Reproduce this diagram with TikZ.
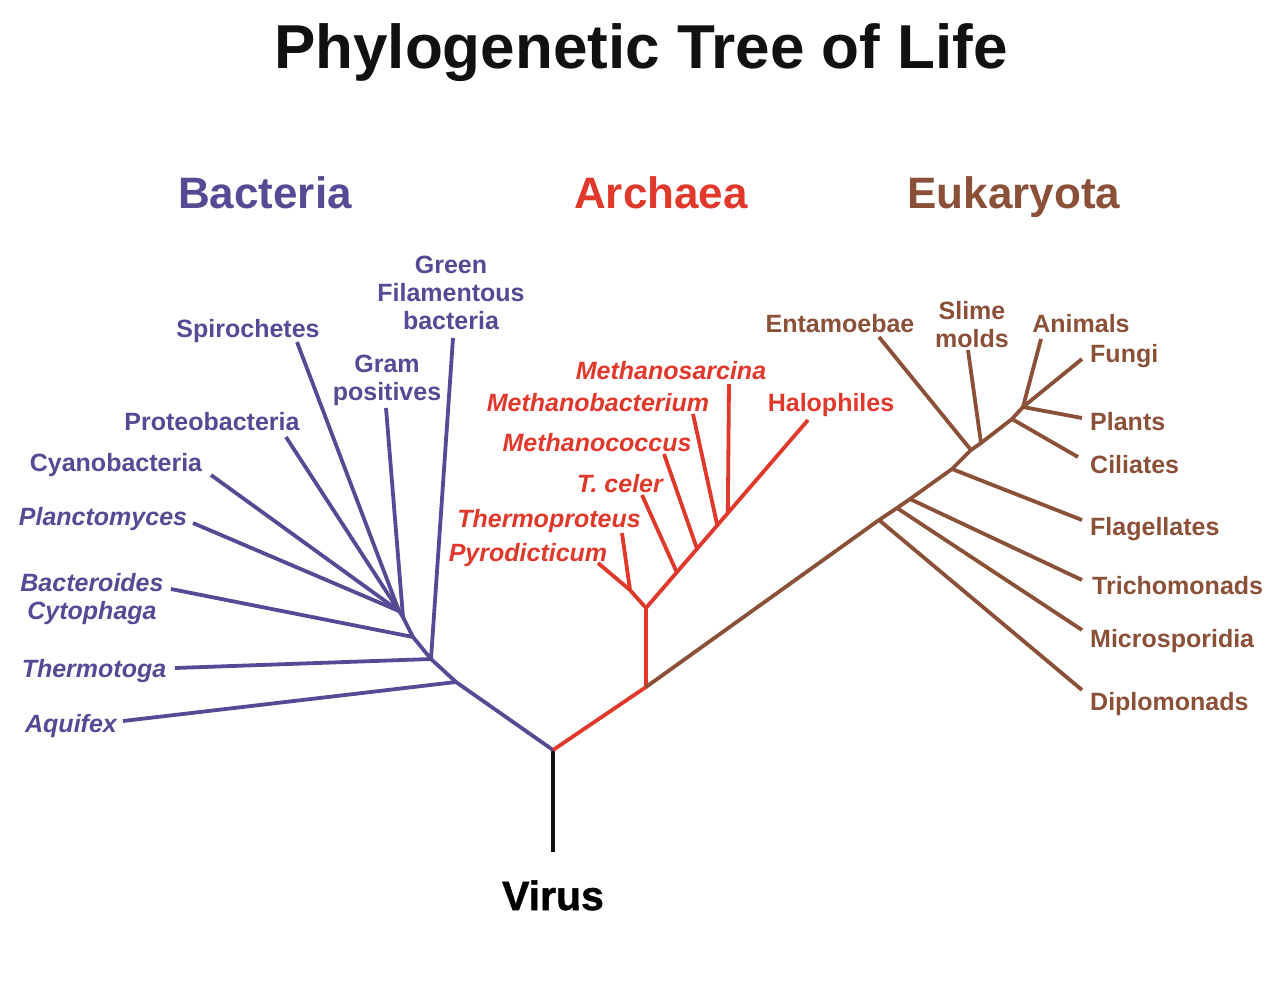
\documentclass[tikz,border=0pt]{standalone}
\usepackage{fontspec}
\setmainfont{Liberation Sans}
\newfontfamily\virusfont{Liberation Sans Bold}[FakeBold=1.2]
\usetikzlibrary{calc}
\definecolor{bacc}{HTML}{574A94}
\definecolor{arcc}{HTML}{E0392C}
\definecolor{eukc}{HTML}{8A5038}
\definecolor{inkc}{HTML}{111111}
\newcommand\labfont{\fontsize{25}{28}\selectfont\bfseries}
\newcommand\itlabfont{\fontsize{25}{28}\selectfont\bfseries\itshape}
\begin{document}
\begin{tikzpicture}[x=1pt,y=-1pt,
  branch/.style={line width=3.8pt, line join=round},
  lab/.style={font=\labfont, inner sep=0pt},
  itlab/.style={font=\itlabfont, inner sep=0pt},
  multi/.style={align=center, anchor=north},
  head/.style={font=\fontsize{44}{50}\selectfont\bfseries, inner sep=0pt, anchor=base}]
\useasboundingbox (0,0) rectangle (1285,997);
\fill[white] (0,0) rectangle (1285,997);

% ---------- titles ----------
\node[font=\fontsize{62}{70}\selectfont\bfseries, text=inkc, inner sep=0pt, anchor=base] (title) at (641,68) {Phylogenetic Tree of Life};
\node[head, text=bacc] (hbac) at (265,208) {Bacteria};
\node[head, text=arcc] (harc) at (661,208) {Archaea};
\node[head, text=eukc] (heuk) at (1014,208) {Eukaryota};
\node[font=\virusfont\fontsize{41}{46}\selectfont, inner sep=0pt, anchor=base] (virus) at (553,910) {Virus};

% ---------- coordinates ----------
\coordinate (R) at (553,750);
\coordinate (vT) at (553,852);
% bacteria
\coordinate (B1) at (456,682);
\coordinate (B2) at (431,659);
\coordinate (B3) at (413,637);
\coordinate (B4) at (403,617);
\coordinate (B5) at (399,611);
\coordinate (aquifexT) at (123,721);
\coordinate (thermotogaT) at (175,668);
\coordinate (greenT) at (453,338);
\coordinate (bacteroidesT) at (171,589);
\coordinate (gramT) at (386,408);
\coordinate (plancT) at (193,523);
\coordinate (cyanoT) at (211,475);
\coordinate (proteoT) at (286,437);
\coordinate (spiroT) at (297,342);
% archaea
\coordinate (A1) at (646,687);
\coordinate (A2) at (646,608);
\coordinate (A3) at (630,590);
\coordinate (halT) at (808,420);
\coordinate (pyroT) at (598,563);
\coordinate (thermprT) at (622,533);
\coordinate (tcelerT) at (642,495);
\coordinate (mcoccusT) at (664,454);
\coordinate (mbactT) at (693,414);
\coordinate (msarcT) at (729,384);
\coordinate (T1) at ($(A2)!0.19!(halT)$);
\coordinate (T2) at ($(A2)!0.315!(halT)$);
\coordinate (T3) at ($(A2)!0.44!(halT)$);
\coordinate (T4) at ($(A2)!0.505!(halT)$);
% eukaryota
\coordinate (E1) at (879,520);
\coordinate (E2) at (897,508);
\coordinate (E3) at (910,499);
\coordinate (E4) at (952,469);
\coordinate (E5) at (971,450);
\coordinate (E6) at (981,443);
\coordinate (E7) at (1012,419);
\coordinate (E8) at (1023,407);
\coordinate (diploT) at (1082,690);
\coordinate (microT) at (1082,630);
\coordinate (trichT) at (1082,580);
\coordinate (flagT) at (1082,520);
\coordinate (entaT) at (879,337);
\coordinate (slimeT) at (968,350);
\coordinate (ciliT) at (1078,457);
\coordinate (plantT) at (1082,418);
\coordinate (animT) at (1041,339);
\coordinate (fungiT) at (1082,359);

% ---------- branches ----------
\draw[branch, inkc] (R) -- (vT);
\draw[branch, bacc] (R) -- (B1) -- (B2) -- (B3) -- (B4) -- (B5);
\draw[branch, bacc] (B1) -- (aquifexT);
\draw[branch, bacc] (B2) -- (thermotogaT);
\draw[branch, bacc] (B2) -- (greenT);
\draw[branch, bacc] (B3) -- (bacteroidesT);
\draw[branch, bacc] (B4) -- (gramT);
\draw[branch, bacc] (B5) -- (plancT);
\draw[branch, bacc] (B5) -- (cyanoT);
\draw[branch, bacc] (B5) -- (proteoT);
\draw[branch, bacc] (B5) -- (spiroT);

\draw[branch, arcc] (R) -- (A1) -- (A2) -- (halT);
\draw[branch, arcc] (A2) -- (A3) -- (pyroT);
\draw[branch, arcc] (A3) -- (thermprT);
\draw[branch, arcc] (T1) -- (tcelerT);
\draw[branch, arcc] (T2) -- (mcoccusT);
\draw[branch, arcc] (T3) -- (mbactT);
\draw[branch, arcc] (T4) -- (msarcT);

\draw[branch, eukc] (A1) -- (E1) -- (E2) -- (E3) -- (E4) -- (E5) -- (E6) -- (E7) -- (E8) -- (fungiT);
\draw[branch, eukc] (E1) -- (diploT);
\draw[branch, eukc] (E2) -- (microT);
\draw[branch, eukc] (E3) -- (trichT);
\draw[branch, eukc] (E4) -- (flagT);
\draw[branch, eukc] (E5) -- (entaT);
\draw[branch, eukc] (E6) -- (slimeT);
\draw[branch, eukc] (E7) -- (ciliT);
\draw[branch, eukc] (E8) -- (plantT);
\draw[branch, eukc] (E8) -- (animT);

% ---------- labels: bacteria ----------
\begin{scope}[text=bacc]
\node[lab, multi] (green) at (451,256) {Green\\Filamentous\\bacteria};
\node[lab, multi] (gram) at (387,355) {Gram\\positives};
\node[itlab, multi] (bacteroides) at (92,573) {Bacteroides\\Cytophaga};
\node[lab, anchor=base] (spiro) at (248,337) {Spirochetes};
\node[lab, anchor=base] (proteo) at (212,430) {Proteobacteria};
\node[lab, anchor=base] (cyano) at (116,471) {Cyanobacteria};
\node[itlab, anchor=base] (planc) at (103,525) {Planctomyces};
\node[itlab, anchor=base] (thermotoga) at (94,677) {Thermotoga};
\node[itlab, anchor=base] (aquifex) at (71,732) {Aquifex};
\end{scope}

% ---------- labels: archaea ----------
\begin{scope}[text=arcc]
\node[itlab, anchor=base] (msarc) at (671,379) {Methanosarcina};
\node[itlab, anchor=base] (mbact) at (598,411) {Methanobacterium};
\node[itlab, anchor=base] (mcoccus) at (597,451) {Methanococcus};
\node[itlab, anchor=base] (tceler) at (620,492) {T. celer};
\node[itlab, anchor=base] (thermpr) at (549,527) {Thermoproteus};
\node[itlab, anchor=base] (pyro) at (528,561) {Pyrodicticum};
\node[lab, anchor=base] (hal) at (831,411) {Halophiles};
\end{scope}

% ---------- labels: eukaryota ----------
\begin{scope}[text=eukc]
\node[lab, anchor=base] (enta) at (840,332) {Entamoebae};
\node[lab, multi] (slime) at (972,301) {Slime\\molds};
\node[lab, anchor=base] (anim) at (1081,332) {Animals};
\node[lab, anchor=base west] (fungi) at (1090,362) {Fungi};
\node[lab, anchor=base west] (plants) at (1090,430) {Plants};
\node[lab, anchor=base west] (cili) at (1090,473) {Ciliates};
\node[lab, anchor=base west] (flag) at (1090,535) {Flagellates};
\node[lab, anchor=base west] (trich) at (1092,594) {Trichomonads};
\node[lab, anchor=base west] (micro) at (1090,647) {Microsporidia};
\node[lab, anchor=base west] (diplo) at (1090,710) {Diplomonads};
\end{scope}
\end{tikzpicture}
\end{document}
